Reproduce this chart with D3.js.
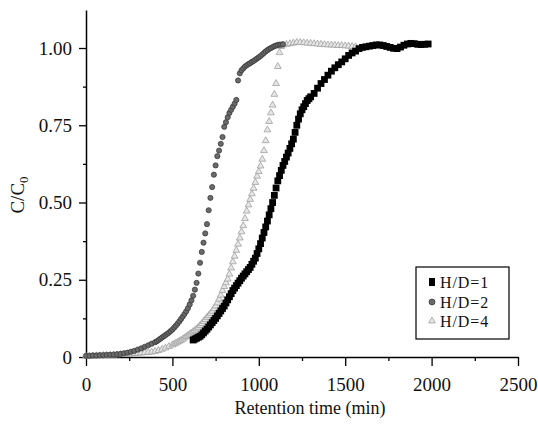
<!DOCTYPE html>
<html>
<head>
<meta charset="utf-8">
<script src="https://cdn.jsdelivr.net/npm/d3@7"></script>
<style>
  body { margin: 0; background: #fff; }
  svg text { font-family: "Liberation Serif", "Times New Roman", serif !important; fill: #111; }
</style>
</head>
<body>
<div id="chart"></div>
<script>

// H/D = 1 (black squares)
var timeHD1 = [620,630,640,650,660,670,680,690,700,710,720,730,740,750,760,770,780,790,800,
	810,820,830,840,850,860,870,880,890,900,910,920,930,940,950,960,970,980,990,1000,
	1010,1020,1030,1040,1050,1060,1070,1080,1090,1100,1110,1120,1130,1140,1150,1160,1170,
	1180,1190,1200,1210,1220,1230,1240,1250,1260,1270,1280,1290,1300,
	1320,1340,1360,1380,1400,1420,1440,1460,1480,1500,1520,1540,1560,1580,1600,1620,1640,
	1660,1680,1700,1720,1740,1760,1780,1800,1820,1840,1860,1880,1900,1920,1940,1960,1980];
var valueHD1 = [.055,.058,.061,.064,.067,.072,.078,.084,.090,.097,.104,.111,.118,.125,.133,.141,.149,.157,.165,
	.175,.185,.195,.205,.215,.223,.231,.239,.247,.255,.262,.269,.276,.283,.290,.300,.310,.320,.335,.350,
	.367,.385,.403,.421,.440,.460,.480,.500,.523,.547,.570,.587,.604,.620,.633,.647,.660,
	.675,.690,.705,.727,.750,.770,.787,.800,.810,.820,.830,.836,.842,
	.853,.870,.885,.898,.912,.925,.936,.946,.955,.965,.976,.984,.990,.998,1.002,1.004,1.006,
	1.008,1.010,1.010,1.008,1.005,1.002,.999,.998,1.003,1.009,1.013,1.015,1.014,1.012,1.011,1.012,1.013];

// H/D = 2 (grey circles)
var timeHD2 = [0,20,40,60,80,100,120,140,160,180,200,220,240,260,280,300,320,340,360,380,400,
	410,420,430,440,450,460,470,480,490,500,510,520,530,540,550,560,570,580,590,600,
	610,620,630,640,650,660,670,680,690,700,710,720,730,740,750,760,770,780,790,800,
	810,820,830,840,850,860,870,880,890,900,910,920,930,940,950,960,970,980,990,1000,
	1010,1020,1030,1040,1050,1060,1070,1080,1090,1100,1110,1120,1130,1140];
var valueHD2 = [.004,.004,.005,.005,.006,.006,.007,.007,.008,.009,.010,.012,.014,.017,.020,.024,.028,.033,.038,.043,.048,
	.051,.055,.059,.063,.067,.071,.075,.079,.084,.089,.095,.101,.108,.115,.123,.131,.139,.148,.158,.170,
	.183,.198,.218,.240,.270,.305,.340,.370,.400,.430,.475,.515,.550,.590,.620,.650,.668,.690,.712,.745,
	.760,.776,.790,.800,.810,.820,.832,.895,.918,.928,.934,.940,.944,.948,.951,.955,.958,.962,.966,.970,
	.974,.979,.984,.989,.993,.997,1.000,1.003,1.006,1.008,1.010,1.011,1.011,1.012];

// H/D = 4 (light grey triangles)
var timeHD4 = [0,20,40,60,80,100,120,140,160,180,200,220,240,260,280,300,320,340,360,380,400,
	420,440,460,480,500,510,520,530,540,550,560,570,580,590,600,610,620,630,640,650,
	660,670,680,690,700,710,720,730,740,750,760,770,780,790,800,810,820,830,840,850,
	860,870,880,890,900,910,920,930,940,950,960,970,980,990,1000,1010,1020,1030,1040,1050,
	1060,1070,1080,1090,1100,1110,1120,1130,1140,1160,1180,1200,1220,1240,1260,1280,1300,
	1320,1340,1360,1380,1400,1420,1440,1460,1480,1500,1520,1540,1560];
var valueHD4 = [.002,.003,.003,.004,.004,.005,.005,.006,.006,.007,.008,.008,.009,.010,.011,.012,.013,.014,.015,.016,.018,
	.021,.025,.029,.034,.039,.042,.045,.048,.051,.054,.058,.062,.066,.070,.074,.078,.082,.086,.091,.096,
	.102,.108,.115,.121,.128,.134,.141,.148,.156,.165,.175,.187,.200,.215,.228,.240,.252,.268,.288,.308,
	.326,.345,.365,.385,.405,.425,.448,.472,.492,.510,.528,.546,.565,.585,.600,.618,.640,.668,.700,.735,
	.762,.790,.815,.850,.885,.940,.985,1.005,1.010,1.012,1.014,1.016,1.018,1.018,1.017,1.016,1.015,
	1.014,1.013,1.012,1.011,1.010,1.010,1.009,1.008,1.008,1.007,1.006,1.005,1.004];

var xTicks = [0, 500, 1000, 1500, 2000, 2500];
var yTicks = [0, 0.25, 0.5, 0.75, 1.0];
var yTickLabels = ["0", "0.25", "0.50", "0.75", "1.00"];
var legendLabels = ["H/D=1", "H/D=2", "H/D=4"];

var width = 538,
	height = 432;

var svg = d3.select("#chart").append("svg")
	.attr("width", width)
	.attr("height", height);

// scales: 0..2500 min over x 86..518, 0..1.123 over y 357..10
var x = d3.scaleLinear().domain([0, 2500]).range([86, 518]);
var y = d3.scaleLinear().domain([0, 1.123]).range([357, 10]);

function zip(t, v) {
	return t.map(function(d, i) { return {t: d, v: v[i]}; });
}

// minor ticks first
svg.append("g")
	.attr("transform", "translate(0,357)")
	.call(d3.axisBottom(x).tickValues(d3.range(250, 2500, 500)).tickSize(4).tickFormat(""))
	.call(function(g) { g.select(".domain").remove(); });

svg.append("g")
	.attr("transform", "translate(86,0)")
	.call(d3.axisLeft(y).tickValues(d3.range(0.125, 1.1, 0.25)).tickSize(3).tickFormat(""))
	.call(function(g) { g.select(".domain").remove(); });

// major axes
var xAxis = svg.append("g")
	.attr("transform", "translate(0,357)")
	.call(d3.axisBottom(x).tickValues(xTicks).tickSize(9).tickPadding(12).tickSizeOuter(0)
		.tickFormat(d3.format("d")));

var yAxis = svg.append("g")
	.attr("transform", "translate(86,0)")
	.call(d3.axisLeft(y).tickValues(yTicks).tickSize(7).tickPadding(7).tickSizeOuter(0)
		.tickFormat(function(d, i) { return yTickLabels[i]; }));

svg.selectAll("g").attr("font-family", null);
svg.selectAll(".domain").attr("stroke-width", 1.5);
svg.selectAll(".tick line").attr("stroke-width", 1.3);
svg.selectAll(".tick text").attr("font-size", 19);

// triangles
var tri = d3.symbol().type(d3.symbolTriangle).size(20);
svg.append("g").selectAll("path")
	.data(zip(timeHD4, valueHD4))
	.enter().append("path")
	.attr("d", tri)
	.attr("transform", function(d) { return "translate(" + x(d.t) + "," + y(d.v) + ")"; })
	.attr("fill", "#e6e6e6")
	.attr("stroke", "#a0a0a0")
	.attr("stroke-width", 0.8);

// circles
svg.append("g").selectAll("circle")
	.data(zip(timeHD2, valueHD2))
	.enter().append("circle")
	.attr("cx", function(d) { return x(d.t); })
	.attr("cy", function(d) { return y(d.v); })
	.attr("r", 2.6)
	.attr("fill", "#6a6a6a")
	.attr("stroke", "#333")
	.attr("stroke-width", 0.7);

// squares
svg.append("g").selectAll("rect")
	.data(zip(timeHD1, valueHD1))
	.enter().append("rect")
	.attr("x", function(d) { return x(d.t) - 3.4; })
	.attr("y", function(d) { return y(d.v) - 3.4; })
	.attr("width", 6.8)
	.attr("height", 6.8)
	.attr("fill", "#000");

// axis titles
svg.append("text")
	.attr("x", 310)
	.attr("y", 414)
	.attr("text-anchor", "middle")
	.attr("font-size", 18)
	.text("Retention time (min)");

var yl = svg.append("text")
	.attr("transform", "translate(24,195) rotate(-90)")
	.attr("text-anchor", "middle")
	.attr("font-size", 19);
yl.append("tspan").text("C/C");
yl.append("tspan").attr("font-size", 13).attr("dy", 4).text("0");

// legend
var legend = svg.append("g");
legend.append("rect")
	.attr("x", 416).attr("y", 267)
	.attr("width", 93).attr("height", 72)
	.attr("fill", "#fff")
	.attr("stroke", "#000")
	.attr("stroke-width", 1.2);

var ly = [282, 302, 321];
legend.append("rect")
	.attr("x", 429).attr("y", ly[0] - 4).attr("width", 6).attr("height", 8).attr("fill", "#000");
legend.append("circle")
	.attr("cx", 432).attr("cy", ly[1]).attr("r", 3)
	.attr("fill", "#6a6a6a").attr("stroke", "#333").attr("stroke-width", 0.7);
legend.append("path")
	.attr("d", tri)
	.attr("transform", "translate(432," + ly[2] + ")")
	.attr("fill", "#e6e6e6").attr("stroke", "#a0a0a0").attr("stroke-width", 0.8);

legend.selectAll("text.lab")
	.data(legendLabels)
	.enter().append("text")
	.attr("class", "lab")
	.attr("x", 440)
	.attr("y", function(d, i) { return ly[i] + 5.5; })
	.attr("font-size", 16)
	.attr("letter-spacing", 0.9)
	.text(function(d) { return d; });

</script>
</body>
</html>
